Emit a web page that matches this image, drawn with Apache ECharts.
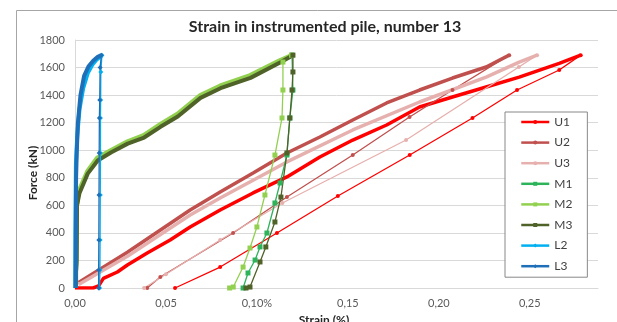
<!DOCTYPE html>
<html><head><meta charset="utf-8">
<script src="https://cdn.jsdelivr.net/npm/echarts@6/dist/echarts.min.js"></script>
<style>html,body{margin:0;padding:0;background:#fff}#c{width:617px;height:322px}</style>
</head><body><div id="c"></div>
<script>
// ---- data (strain %, force kN) ----
const seriesNames = ['U1','U2','U3','M1','M2','M3','L2','L3'];
const xTickLabels = ['0,00','0,05','0,10%','0,15','0,20','0,25'];
const yTickLabels = ['0','200','400','600','800','1000','1200','1400','1600','1800'];

const U1_load = [[0.000,0],[0.003,0],[0.010,0],[0.013,15],[0.0156,70],[0.0233,116],[0.0288,167],[0.0397,254],[0.0523,348],[0.0633,443],[0.0798,566],[0.0979,690],[0.1165,806],[0.1346,951],[0.1527,1074],[0.1713,1183],[0.1894,1314],[0.2075,1386],[0.226,1459],[0.2442,1531],[0.2662,1630],[0.278,1690]];
const U1_unload = [[0.278,1690],[0.2662,1582],[0.243,1437],[0.2185,1234],[0.184,965],[0.1445,668],[0.111,399],[0.0798,152],[0.055,0]];
const U2_load = [[0.002,40],[0.0288,260],[0.0633,566],[0.0798,697],[0.0979,835],[0.1165,980],[0.1346,1096],[0.1527,1219],[0.1713,1343],[0.1894,1437],[0.2075,1524],[0.226,1604],[0.2387,1690]];
const U2_unload = [[0.2387,1690],[0.2075,1437],[0.1839,1241],[0.1527,965],[0.1165,660],[0.0869,399],[0.0469,80],[0.0397,0]];
const U3_load = [[0.002,25],[0.0288,230],[0.0633,530],[0.0798,653],[0.1165,915],[0.1527,1147],[0.1894,1350],[0.226,1531],[0.2442,1640],[0.254,1690]];
const U3_unload = [[0.254,1690],[0.244,1604],[0.182,1074],[0.114,617],[0.0798,348],[0.05,100],[0.038,0]];
const M1_load = [[0.0005,0],[0.0005,100],[0.0008,190],[0.001,590],[0.002,690],[0.0068,835],[0.012,929],[0.0195,987],[0.0288,1052],[0.0376,1096],[0.0469,1175],[0.0562,1250],[0.0688,1385],[0.0798,1455],[0.0962,1530],[0.1127,1640],[0.1193,1690]];
const M1_unload = [[0.1193,1690],[0.1198,1437],[0.1181,1234],[0.1165,965],[0.1127,762],[0.1099,617],[0.1055,399],[0.1017,298],[0.099,203],[0.0951,109],[0.0924,0]];
const M2_load = [[0.0004,0],[0.0004,150],[0.0008,600],[0.002,705],[0.0068,850],[0.012,945],[0.0195,1000],[0.0288,1065],[0.0376,1110],[0.0469,1190],[0.0562,1265],[0.0688,1400],[0.0798,1470],[0.0962,1545],[0.1127,1655],[0.119,1690]];
const M2_unload = [[0.119,1690],[0.1143,1640],[0.1143,1437],[0.1138,1234],[0.1099,965],[0.1044,675],[0.100,443],[0.0962,290],[0.0924,152],[0.087,7],[0.085,0]];
const M3_load = [[0.0006,0],[0.0006,120],[0.0009,200],[0.0011,600],[0.0025,690],[0.007,830],[0.0125,925],[0.02,985],[0.029,1048],[0.038,1092],[0.047,1170],[0.0565,1245],[0.069,1380],[0.08,1450],[0.0965,1525],[0.113,1638],[0.1198,1690]];
const M3_unload = [[0.1198,1690],[0.1198,1568],[0.1193,1437],[0.1181,1234],[0.1165,980],[0.1132,660],[0.1099,479],[0.1049,298],[0.1017,189],[0.0962,7],[0.094,0]];
const L2_load = [[0.0002,0],[0.0002,400],[0.0005,900],[0.0012,1100],[0.0025,1300],[0.0045,1450],[0.007,1560],[0.0095,1620],[0.012,1660],[0.0145,1685],[0.0148,1690]];
const L2_unload = [[0.0148,1690],[0.0142,1568],[0.0141,1364],[0.014,1234],[0.014,980],[0.0139,675],[0.0138,348],[0.0137,131],[0.0135,0]];
const L3_load = [[0.0003,0],[0.0004,300],[0.0006,800],[0.001,1000],[0.0016,1200],[0.003,1400],[0.005,1540],[0.0075,1610],[0.010,1650],[0.0125,1678],[0.0145,1690]];
const L3_unload = [[0.0145,1690],[0.0138,1600],[0.0136,1364],[0.0134,1234],[0.0133,980],[0.0132,675],[0.0131,348],[0.013,131],[0.013,0]];

const loads = [U1_load,U2_load,U3_load,M1_load,M2_load,M3_load,L2_load,L3_load];
const unloads = [U1_unload,U2_unload,U3_unload,M1_unload,M2_unload,M3_unload,L2_unload,L3_unload];

// ---- styles ----
const colors = ['#FF0000','#C0504D','#E6B0AE','#2DB35A','#92D050','#4F6228','#00B0F0','#1F6FB8'];
const symbols = ['circle','circle','circle','rect','rect','rect','diamond','diamond'];
const FONT = 'Lato, "Open Sans", sans-serif';

const series = [];
seriesNames.forEach((n,i)=>{
  series.push({name:n,type:'line',data:unloads[i],symbol:symbols[i],symbolSize:i<3?4:5,
    color:colors[i],lineStyle:{width:1.3,color:colors[i]},itemStyle:{color:colors[i]},animation:false});
  series.push({name:n,type:'line',data:loads[i],symbol:'none',
    color:colors[i],lineStyle:{width:i<3?3.5:4,color:colors[i]},animation:false});
});

const chart = echarts.init(document.getElementById('c'),null,{renderer:'canvas'});
chart.setOption({
  animation:false,
  backgroundColor:'#fff',
  title:{text:'Strain in instrumented pile, number 13',left:325,textAlign:'center',top:19,padding:0,
    textStyle:{fontFamily:FONT,fontSize:16,fontWeight:'bold',color:'#262626'}},
  graphic:[
    {type:'rect',shape:{x:16.5,y:10.5,width:700,height:400},style:{fill:'none',stroke:'#A6A6A6',lineWidth:1},silent:true,z:-1},
    {type:'text',x:33,y:173,rotation:Math.PI/2,silent:true,
      style:{text:'Force (kN)',fontFamily:FONT,fontSize:12,fontWeight:'bold',fill:'#262626',align:'center',verticalAlign:'middle'}}
  ],
  grid:{left:75,top:40,right:19,bottom:34,outerBoundsMode:'none',containLabel:false},
  legend:{orient:'vertical',left:505,top:112,padding:[3,15,4,15],itemGap:6.6,itemWidth:28,itemHeight:5,
    backgroundColor:'#fff',borderColor:'#888',borderWidth:1,
    lineStyle:{width:2.5},
    textStyle:{fontFamily:FONT,fontSize:12,lineHeight:14,color:'#404040'},
    data:seriesNames},
  xAxis:{type:'value',min:0,max:0.2875,interval:0.05,
    name:'Strain (%)',nameLocation:'middle',nameGap:21,
    nameTextStyle:{fontFamily:FONT,fontSize:12,fontWeight:'bold',color:'#262626',padding:[0,25,0,0]},
    axisLine:{show:true,lineStyle:{color:'#D9D9D9'}},axisTick:{show:false},splitLine:{show:false},
    axisLabel:{margin:10,showMaxLabel:false,fontFamily:FONT,fontSize:11,color:'#595959',
      formatter:v=>{const k=Math.round(v/0.05);return Math.abs(v-k*0.05)<1e-6?(xTickLabels[k]||''):'';}}},
  yAxis:{type:'value',min:0,max:1800,interval:200,
    axisLine:{show:true,lineStyle:{color:'#D9D9D9'}},axisTick:{show:false},
    splitLine:{show:true,lineStyle:{color:'#D9D9D9'}},
    axisLabel:{margin:10,fontFamily:FONT,fontSize:11,color:'#595959',
      formatter:v=>yTickLabels[Math.round(v/200)]||''}},
  series:series
});
</script></body></html>
